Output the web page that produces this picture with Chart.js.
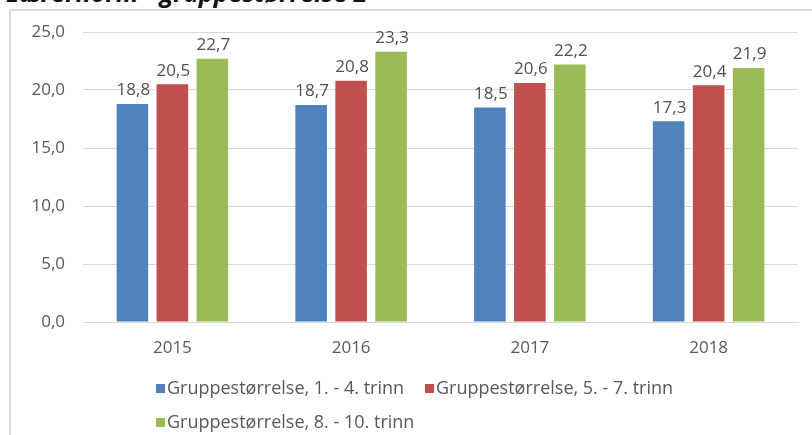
<!DOCTYPE html>
<html>
<head>
<meta charset="utf-8">
<script src="https://cdn.jsdelivr.net/npm/chart.js@4.4.4/dist/chart.umd.min.js"></script>
<style>
  html, body { margin: 0; padding: 0; background: #fff; overflow: hidden; }
  body { width: 812px; height: 435px; position: relative; font-family: "Open Sans", sans-serif; }
  #frame { position: absolute; left: 9px; top: 9px; width: 900px; height: 500px; border: 2px solid #d9d9d9; box-sizing: border-box; }
  #title { position: absolute; left: 6px; top: -25px; font: italic bold 25px "Open Sans", sans-serif; color: #111; white-space: nowrap; }
  #wrap { position: absolute; left: 0; top: 0; width: 812px; height: 435px; }
  #legend { position: absolute; left: 156px; top: 375px; width: 640px; font-size: 18px; color: #595959; }
  .item { position: absolute; white-space: nowrap; line-height: 24px; }
  .box { display: inline-block; width: 9px; height: 9px; margin-right: 2px; vertical-align: 1px; }
</style>
</head>
<body>
<div id="frame"></div>
<div id="title">Lærernorm - gruppestørrelse 2</div>
<div id="wrap"><canvas id="c" width="812" height="435"></canvas></div>
<div id="legend"></div>
<script>
// chart data
const years = ['2015', '2016', '2017', '2018'];
const grp1to4 = [18.8, 18.7, 18.5, 17.3];
const grp5to7 = [20.5, 20.8, 20.6, 20.4];
const grp8to10 = [22.7, 23.3, 22.2, 21.9];
const seriesNames = [
  'Gruppestørrelse, 1. - 4. trinn',
  'Gruppestørrelse, 5. - 7. trinn',
  'Gruppestørrelse, 8. - 10. trinn'
];
const seriesColors = ['#4f81bd', '#c0504d', '#9bbb59'];

const fmt = v => v.toFixed(1).replace('.', ',');

// values drawn above each bar
const valueLabels = {
  id: 'valueLabels',
  afterDatasetsDraw(chart) {
    const ctx = chart.ctx;
    ctx.save();
    ctx.font = '17px "Open Sans", sans-serif';
    ctx.fillStyle = '#505050';
    ctx.textAlign = 'center';
    ctx.textBaseline = 'bottom';
    chart.data.datasets.forEach((ds, i) => {
      chart.getDatasetMeta(i).data.forEach((bar, j) => {
        ctx.fillText(fmt(ds.data[j]), bar.x + 1, bar.y - 5);
      });
    });
    ctx.restore();
  }
};

const chart = new Chart(document.getElementById('c'), {
  type: 'bar',
  data: {
    labels: years,
    datasets: [grp1to4, grp5to7, grp8to10].map((d, i) => ({
      label: seriesNames[i],
      data: d,
      backgroundColor: seriesColors[i],
      categoryPercentage: 0.671,
      barPercentage: 0.79
    }))
  },
  options: {
    responsive: false,
    animation: false,
    layout: { padding: { top: 32, right: 14, left: 0, bottom: 0 } },
    plugins: { legend: { display: false }, tooltip: { enabled: false } },
    scales: {
      x: {
        grid: { display: false, drawTicks: false },
        border: { color: '#d9d9d9', width: 1 },
        ticks: { color: '#595959', font: { family: 'Open Sans', size: 17 }, padding: 16 },
        afterFit(scale) { scale.height = 113; }
      },
      y: {
        min: 0,
        max: 25,
        grid: { color: '#d9d9d9', drawTicks: false },
        border: { display: false },
        ticks: {
          stepSize: 5,
          color: '#595959',
          font: { family: 'Open Sans', size: 17 },
          padding: 18,
          callback: v => fmt(v)
        },
        afterFit(scale) { scale.width = 83; }
      }
    }
  },
  plugins: [valueLabels]
});

// legend as HTML, left-aligned rows like the original
const legendPos = [[0, 0], [269, 0], [0, 34]];
const legendEl = document.getElementById('legend');
chart.data.datasets.forEach((ds, i) => {
  const item = document.createElement('div');
  item.className = 'item';
  item.style.left = legendPos[i][0] + 'px';
  item.style.top = legendPos[i][1] + 'px';
  item.innerHTML = '<span class="box" style="background:' + ds.backgroundColor + '"></span>' + ds.label;
  legendEl.appendChild(item);
});
</script>
</body>
</html>
